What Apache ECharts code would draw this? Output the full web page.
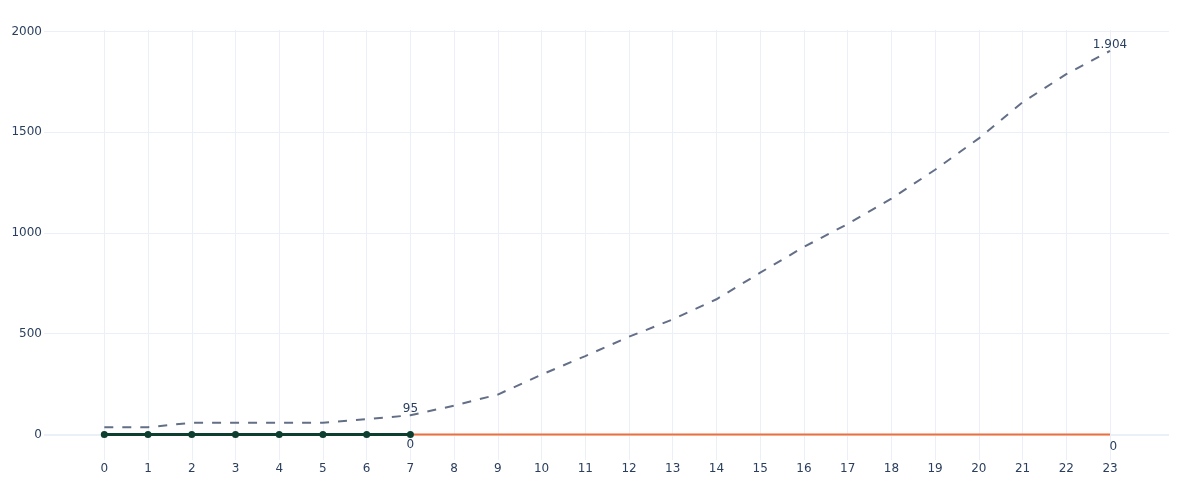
<!DOCTYPE html>
<html>
<head>
<meta charset="utf-8">
<script src="https://cdn.jsdelivr.net/npm/echarts@6/dist/echarts.min.js"></script>
<style>html,body{margin:0;padding:0;background:#fff}#c{width:1200px;height:500px}</style>
</head>
<body>
<div id="c"></div>
<script>
var hours = [0,1,2,3,4,5,6,7,8,9,10,11,12,13,14,15,16,17,18,19,20,21,22,23];
var forecastValues = [36,36,58,58,58,58,76,95,143,198,297,389,485,571,671,803,931,1045,1171,1314,1470,1649,1789,1904];
var actualHours = [0,1,2,3,4,5,6,7];
var actualValues = [0,0,0,0,0,0,0,0];
var restHours = [7,8,9,10,11,12,13,14,15,16,17,18,19,20,21,22,23];
var restValues = [0,0,0,0,0,0,0,0,0,0,0,0,0,0,0,0,0];
var yTicks = [0,500,1000,1500,2000];

var FONT = '"DejaVu Sans", Verdana, sans-serif';
var TXT = '#2a3f5f';
var GRID = '#EBF0F8';

function fmt(v){ return String(v).replace(/\B(?=(\d{3})+(?!\d))/g, '.'); }

var gridLines = [];
hours.forEach(function(h){ gridLines.push({xAxis: h}); });
yTicks.forEach(function(t){ if (t !== 0) gridLines.push({yAxis: t}); });

var forecastData = forecastValues.map(function(v, i){
  var d = {value: [hours[i], v]};
  if (i === 7 || i === forecastValues.length - 1) {
    d.label = {show: true, position: 'top', distance: 0, formatter: function(p){ return fmt(p.value[1]); }};
  }
  return d;
});
var actualData = actualValues.map(function(v, i){
  var d = {value: [actualHours[i], v]};
  if (i === actualValues.length - 1) {
    d.label = {show: true, position: 'bottom', distance: 1, formatter: function(p){ return fmt(p.value[1]); }};
  }
  return d;
});
var restData = restValues.map(function(v, i){
  var d = {value: [restHours[i], v]};
  if (i === restValues.length - 1) {
    d.label = {show: true, position: [0, 7], formatter: function(p){ return fmt(p.value[1]); }};
  }
  return d;
});

var chart = echarts.init(document.getElementById('c'));
chart.setOption({
  animation: false,
  backgroundColor: '#ffffff',
  textStyle: {fontFamily: FONT},
  grid: {left: 44, right: 31, top: 30, bottom: 40},
  xAxis: {
    type: 'value', min: -1.379, max: 24.349,
    axisLine: {show: false}, axisTick: {show: false}, splitLine: {show: false},
    axisLabel: {customValues: hours, color: TXT, fontSize: 12, fontFamily: FONT, margin: 3,
      formatter: function(v){ return String(v); }}
  },
  yAxis: {
    type: 'value', min: -127, max: 2008,
    axisLine: {show: false}, axisTick: {show: false}, splitLine: {show: false},
    axisLabel: {customValues: yTicks, color: TXT, fontSize: 12, fontFamily: FONT, margin: 2,
      formatter: function(v){ return String(v); }}
  },
  series: [
    {
      type: 'line', data: [], silent: true, z: 0,
      markLine: {
        silent: true, symbol: 'none', label: {show: false}, animation: false, z: 0,
        lineStyle: {color: GRID, type: 'solid', width: 1},
        data: gridLines.concat([{yAxis: 0, lineStyle: {color: GRID, width: 2, type: 'solid'}}])
      }
    },
    {
      name: 'forecast', type: 'line', data: forecastData, z: 3,
      showSymbol: true, symbol: 'circle', symbolSize: 1,
      itemStyle: {color: 'rgba(0,0,0,0)'},
      lineStyle: {color: '#636f87', width: 2, type: [9, 9]},
      label: {show: false, color: TXT, fontSize: 12, fontFamily: FONT}
    },
    {
      name: 'rest', type: 'line', data: restData, z: 4,
      showSymbol: true, symbol: 'circle', symbolSize: 1,
      itemStyle: {color: 'rgba(0,0,0,0)'},
      lineStyle: {color: '#ec6f3c', width: 2},
      label: {show: false, color: TXT, fontSize: 12, fontFamily: FONT}
    },
    {
      name: 'actual', type: 'line', data: actualData, z: 5,
      showSymbol: true, symbol: 'circle', symbolSize: 7,
      itemStyle: {color: '#0c3f2f'},
      lineStyle: {color: '#0c3f2f', width: 3},
      label: {show: false, color: TXT, fontSize: 12, fontFamily: FONT}
    }
  ]
});
</script>
</body>
</html>
